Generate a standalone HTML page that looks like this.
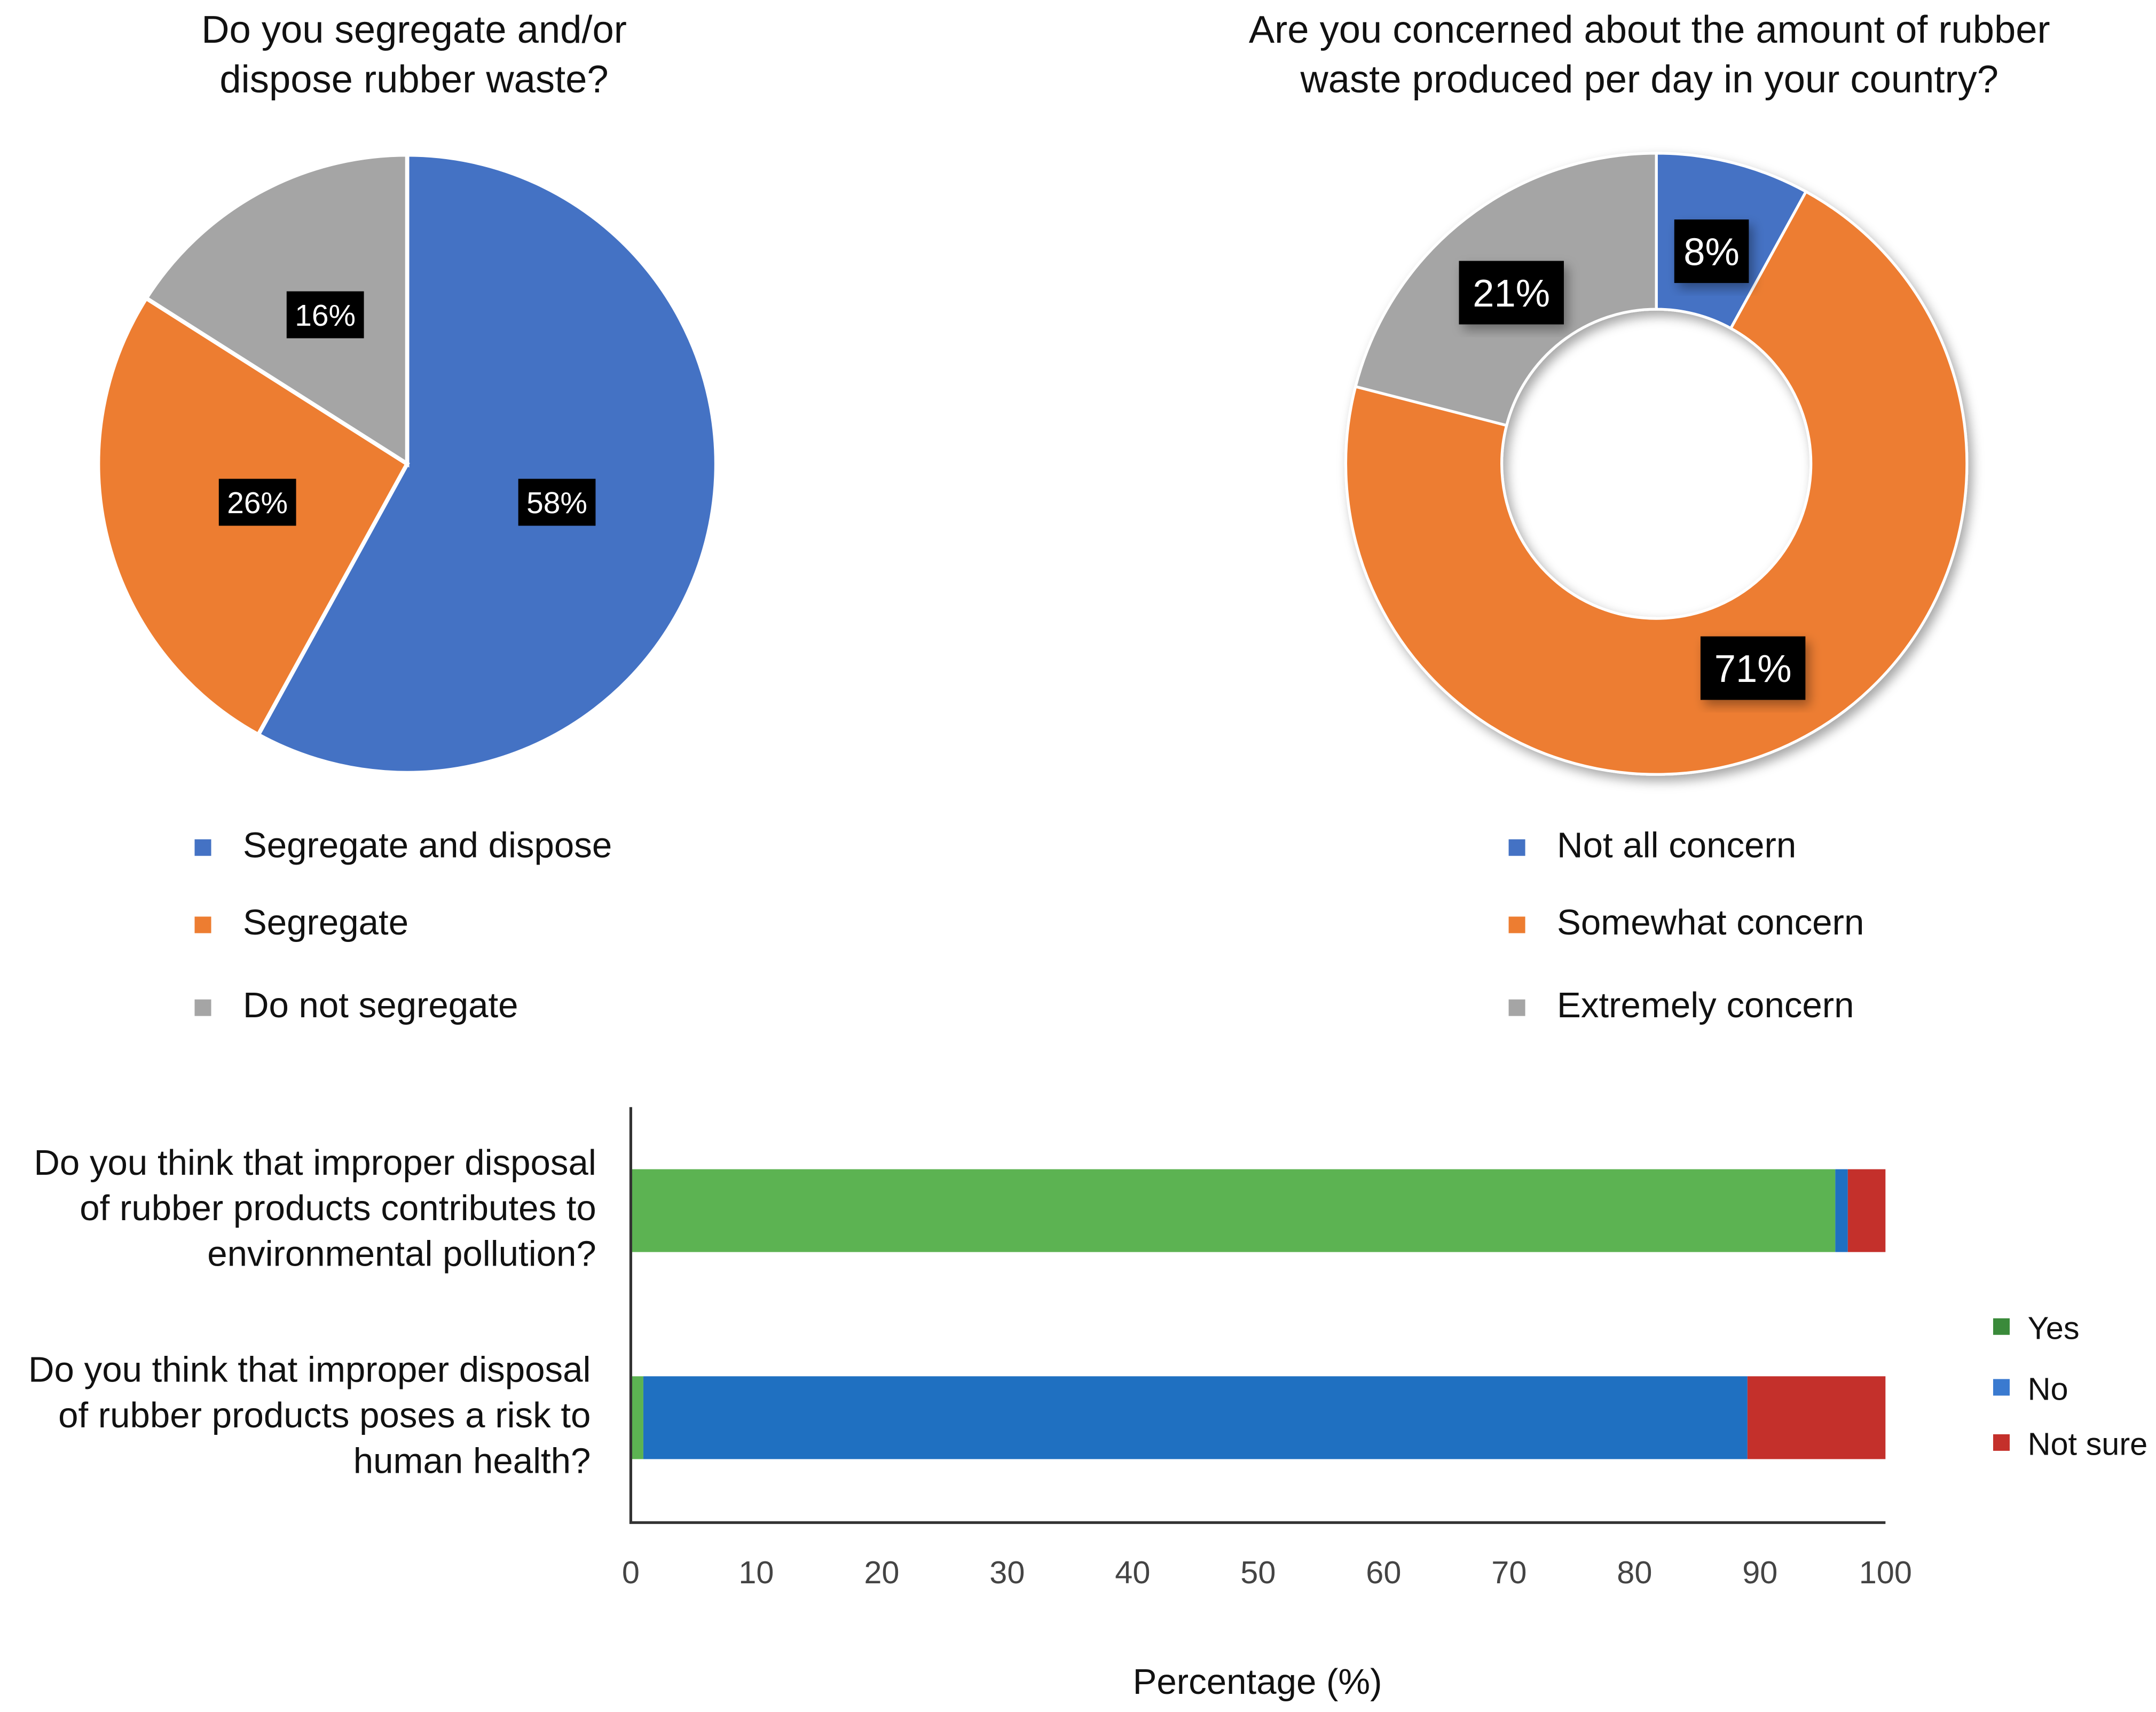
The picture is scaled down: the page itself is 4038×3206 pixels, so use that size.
<!DOCTYPE html>
<html><head><meta charset="utf-8"><style>
html,body{margin:0;padding:0;background:#fff;}
svg{display:block;font-family:"Liberation Sans",sans-serif;}
</style></head><body>
<svg id="root" width="4038" height="3206" viewBox="0 0 1562 1240.2" preserveAspectRatio="none" xmlns="http://www.w3.org/2000/svg">
<defs><filter id="sh" x="-20%" y="-20%" width="140%" height="140%"><feDropShadow dx="3" dy="4" stdDeviation="4" flood-color="#000" flood-opacity="0.35"/></filter></defs>
<g font-size="28" text-anchor="middle" fill="#111">
<text x="300" y="31">Do you segregate and/or</text><text x="300" y="67">dispose rubber waste?</text></g>
<g font-size="28" text-anchor="middle" fill="#111">
<text x="1195" y="31">Are you concerned about the amount of rubber</text><text x="1195" y="67">waste produced per day in your country?</text></g>
<g id="pie"></g>
<g id="donut" filter="url(#sh)"></g>
<g id="donutLabels"></g>
<g id="legends"></g>
<g id="bars"></g>
</svg>
<script>
const NS="http://www.w3.org/2000/svg";
function mk(tag,attrs,parent){const e=document.createElementNS(NS,tag);for(const k in attrs)e.setAttribute(k,attrs[k]);parent.appendChild(e);return e;}
const pieCats=["Segregate and dispose","Segregate","Do not segregate"];
const pieVals=[58,26,16];
const donutCats=["Not all concern","Somewhat concern","Extremely concern"];
const donutVals=[8,71,21];
const pieColors=["#4472c4","#ed7d31","#a5a5a5"];
const barCats=[["Do you think that improper disposal","of rubber products contributes to","environmental pollution?"],["Do you think that improper disposal","of rubber products poses a risk to","human health?"]];
const seriesNames=["Yes","No","Not sure"];
const yesVals=[96,1];
const noVals=[1,88];
const notSureVals=[3,11];
const xTicks=[0,10,20,30,40,50,60,70,80,90,100];

function pt(cx,cy,r,a){return [cx+r*Math.sin(a),cy-r*Math.cos(a)];}
function arcPath(cx,cy,r,ri,a0,a1){
 const big=(a1-a0)>Math.PI?1:0;const p0=pt(cx,cy,r,a0),p1=pt(cx,cy,r,a1);
 if(!ri)return `M${cx},${cy}L${p0}A${r},${r} 0 ${big} 1 ${p1}Z`;
 const q0=pt(cx,cy,ri,a1),q1=pt(cx,cy,ri,a0);
 return `M${p0}A${r},${r} 0 ${big} 1 ${p1}L${q0}A${ri},${ri} 0 ${big} 0 ${q1}Z`;}
function label(parent,x,y,txt,fs,w,h,shadow){
 const g=mk("g",{},parent);
 
 
 const r=mk("rect",{x:x-w/2,y:y-h/2,width:w,height:h,fill:"#000"},g);
 if(shadow)r.setAttribute("filter","url(#sh)");
 const t=mk("text",{x:x,y:y+fs*0.36,"font-size":fs,"text-anchor":"middle",fill:"#fff"},g);t.textContent=txt;}
// pie
(function(){const g=document.getElementById("pie");const cx=295,cy=336,r=224;
 const tot=pieVals.reduce((a,b)=>a+b,0);let a=0;
 pieVals.forEach((v,i)=>{const a1=a+v/tot*2*Math.PI;
  const p=mk("path",{d:arcPath(cx,cy,r,0,a,a1),fill:pieColors[i],stroke:"#fff","stroke-width":3},g);
  
  
  const m=(a+a1)/2,lr=i==0?r*0.5:(i==1?r*0.5:r*0.55);const [lx,ly]=pt(cx,cy,lr,m);
  label(g,lx,ly,v+"%",22,56,34,false);a=a1;});})();
// donut
(function(){const g=document.getElementById("donut");const L=document.getElementById("donutLabels");const cx=1200,cy=336,r=225,ri=112;
 const tot=donutVals.reduce((a,b)=>a+b,0);let a=0;const lrs=[0.7,0.78,0.78];
 donutVals.forEach((v,i)=>{const a1=a+v/tot*2*Math.PI;
  const p=mk("path",{d:arcPath(cx,cy,r,ri,a,a1),fill:pieColors[i],stroke:"#fff","stroke-width":2},g);
  
  
  const m=(a+a1)/2;let [lx,ly]=pt(cx,cy,r*lrs[i],m);
  if(i==0){lx=1240;ly=182;} if(i==2){lx=1095;ly=212;} if(i==1){lx=1270;ly=484;}
  label(L,lx,ly,v+"%",28,i==0?54:76,46,true);a=a1;});})();
// legends
(function(){const g=document.getElementById("legends");const ys=[612,668,728];
 [[147,176,pieCats],[1099,1128,donutCats]].forEach(([sx,tx,cats])=>{
  cats.forEach((c,i)=>{const e=mk("g",{},g);
   
   
   mk("rect",{x:sx-6,y:ys[i]-6+2,width:12,height:12,fill:pieColors[i]},e);
   const t=mk("text",{x:tx,y:ys[i]+9,"font-size":26,fill:"#111"},e);t.textContent=c;});});})();
// bars
(function(){const g=document.getElementById("bars");const x0=457,x1=1366;
 const xs=v=>x0+(x1-x0)*v/100;const barY=[847,997],bh=60;
 const cols=["#5cb352","#1f70c1","#c4302b"];const series=[yesVals,noVals,notSureVals];
 barCats.forEach((c,i)=>{let acc=0;series.forEach((s,j)=>{
  const r=mk("rect",{x:xs(acc),y:barY[i],width:xs(acc+s[i])-xs(acc),height:bh,fill:cols[j]},g);
  
  acc+=s[i];});
  const t=mk("text",{"font-size":26,"text-anchor":"end",fill:"#111"},g);
  
  
  c.forEach((ln,k)=>{const ts=mk("tspan",{x:i==0?432:428,y:barY[i]+4+k*33},t);ts.textContent=ln;});});
 const ax=mk("path",{d:`M${x0},802V1103H${x1}`,stroke:"#333","stroke-width":2,fill:"none"},g);
 
 
 xTicks.forEach(v=>{const t=mk("text",{x:xs(v),y:1147,"font-size":23,"text-anchor":"middle",fill:"#444"},g);
  
  t.textContent=v;});
 const tt=mk("text",{x:911,y:1227,"font-size":26,"text-anchor":"middle",fill:"#111"},g);
 
 tt.textContent="Percentage (%)";
 const lc=["#3a8a3a","#3a7ad0","#c4302b"],ly=[962,1006,1046];
 seriesNames.forEach((n,i)=>{const e=mk("g",{},g);
  
  
  mk("rect",{x:1444,y:ly[i]-7,width:12,height:12,fill:lc[i]},e);
  const t=mk("text",{x:1469,y:ly[i]+8,"font-size":23,fill:"#111"},e);t.textContent=n;});})();
</script>
</body></html>
